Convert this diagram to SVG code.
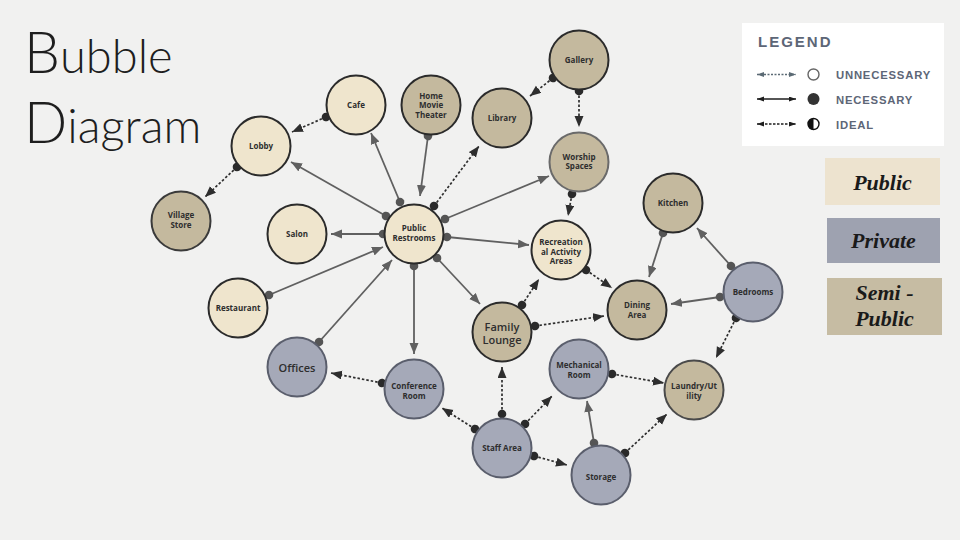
<svg xmlns="http://www.w3.org/2000/svg" width="960" height="540" viewBox="0 0 960 540">
<style>
.bg{fill:#f1f1f0}
.pub{fill:#efe5cd;stroke:#2b2b2b;stroke-width:2}
.semi{fill:#c4b99e;stroke:#2b2b2b;stroke-width:2}
.priv{fill:#a5a9b8;stroke:#5a5e6c;stroke-width:2}
.lbl{font-family:"Open Sans","Noto Sans",sans-serif;font-weight:700;font-size:8px;fill:#2e2e2e;text-anchor:middle}
.big{font-size:11px;font-weight:600}
.sol{stroke:#606060;stroke-width:1.8;fill:none;marker-start:url(#dotS);marker-end:url(#arrS)}
.dot{stroke:#2e2e2e;stroke-width:1.7;stroke-dasharray:2.5 2;fill:none;marker-start:url(#dotD);marker-end:url(#arrD)}
.title{font-family:Lato,"Open Sans",sans-serif;font-weight:300;fill:#1e1e1e}
.leg{font-family:"Liberation Sans",Arial,sans-serif;font-weight:700;fill:#5d6677}
.card{font-family:"Liberation Serif","DejaVu Serif",serif;font-style:italic;font-weight:700;font-size:22px;fill:#1a1a1a;text-anchor:middle}
</style>
<defs>
<marker id="arrS" markerUnits="userSpaceOnUse" markerWidth="12" markerHeight="10" refX="11" refY="4.5" orient="auto"><path d="M0,0 L11,4.5 L0,9 z" fill="#606060"/></marker>
<marker id="arrD" markerUnits="userSpaceOnUse" markerWidth="12" markerHeight="10" refX="11" refY="4.5" orient="auto"><path d="M0,0 L11,4.5 L0,9 z" fill="#2e2e2e"/></marker>
<marker id="dotS" markerUnits="userSpaceOnUse" markerWidth="10" markerHeight="10" refX="5" refY="5" orient="auto"><circle cx="5" cy="5" r="4.3" fill="#555"/></marker>
<marker id="dotD" markerUnits="userSpaceOnUse" markerWidth="10" markerHeight="10" refX="5" refY="5" orient="auto"><circle cx="5" cy="5" r="4.3" fill="#2a2a2a"/></marker>
<marker id="la1" markerUnits="userSpaceOnUse" markerWidth="8" markerHeight="6" refX="7" refY="2.5" orient="auto-start-reverse"><path d="M0,0 L7,2.5 L0,5 z" fill="#5b6a74"/></marker>
<marker id="la2" markerUnits="userSpaceOnUse" markerWidth="8" markerHeight="6" refX="7" refY="2.5" orient="auto-start-reverse"><path d="M0,0 L7,2.5 L0,5 z" fill="#1e1e1e"/></marker>
</defs>
<rect class="bg" x="0" y="0" width="960" height="540"/>

<g id="title">
<text class="title" x="24" y="73"><tspan font-size="57">B</tspan><tspan font-size="47">ubble</tspan></text>
<text class="title" x="24" y="143"><tspan font-size="57">D</tspan><tspan font-size="47">iagram</tspan></text>
</g>

<g id="connectors">
<line class="dot" x1="326" y1="117" x2="292" y2="132"/>
<line class="dot" x1="237" y1="167" x2="205" y2="197"/>
<line class="sol" x1="386" y1="216" x2="291" y2="162"/>
<line class="sol" x1="400" y1="202" x2="371" y2="133"/>
<line class="sol" x1="428" y1="136" x2="420" y2="196"/>
<line class="dot" x1="434" y1="206" x2="479" y2="146"/>
<line class="sol" x1="383" y1="234" x2="331" y2="234"/>
<line class="sol" x1="445" y1="219" x2="549" y2="176"/>
<line class="sol" x1="447" y1="237" x2="529" y2="245"/>
<line class="dot" x1="553" y1="78" x2="530" y2="96"/>
<line class="dot" x1="579" y1="91" x2="579" y2="127"/>
<line class="dot" x1="572" y1="194" x2="568" y2="216"/>
<line class="sol" x1="269" y1="295" x2="383" y2="247"/>
<line class="sol" x1="319" y1="342" x2="392" y2="260"/>
<line class="sol" x1="414" y1="266" x2="414" y2="354"/>
<line class="sol" x1="437" y1="258" x2="480" y2="304"/>
<line class="dot" x1="522" y1="305" x2="539" y2="279"/>
<line class="dot" x1="535" y1="326" x2="604" y2="316"/>
<line class="dot" x1="586" y1="270" x2="612" y2="288"/>
<line class="sol" x1="663" y1="233" x2="649" y2="277"/>
<line class="sol" x1="731" y1="266" x2="697" y2="228"/>
<line class="sol" x1="720" y1="297" x2="671" y2="304"/>
<line class="dot" x1="736" y1="318" x2="716" y2="358"/>
<line class="dot" x1="382" y1="383" x2="331" y2="373"/>
<line class="dot" x1="475" y1="429" x2="442" y2="408"/>
<line class="dot" x1="502" y1="414" x2="502" y2="367"/>
<line class="dot" x1="525" y1="424" x2="552" y2="396"/>
<line class="dot" x1="534" y1="456" x2="567" y2="465"/>
<line class="sol" x1="594" y1="443" x2="587" y2="401"/>
<line class="dot" x1="612" y1="374" x2="664" y2="383"/>
<line class="dot" x1="625" y1="453" x2="667" y2="414"/>
</g>

<g id="n-gallery"><circle class="semi" cx="579" cy="60" r="29.5"/><text class="lbl" x="579" y="63">Gallery</text></g>
<g id="n-library"><circle class="semi" cx="502" cy="118" r="29.5"/><text class="lbl" x="502" y="121">Library</text></g>
<g id="n-hmt"><circle class="semi" cx="431" cy="105" r="29.5"/><text class="lbl" x="431" y="98.5">Home<tspan x="431" dy="9.6">Movie</tspan><tspan x="431" dy="9.6">Theater</tspan></text></g>
<g id="n-cafe"><circle class="pub" cx="356" cy="105" r="29.5"/><text class="lbl" x="356" y="108">Cafe</text></g>
<g id="n-lobby"><circle class="pub" cx="261" cy="146" r="29.5"/><text class="lbl" x="261" y="149">Lobby</text></g>
<g id="n-village"><circle class="semi" cx="181" cy="221" r="29.5" style="stroke:#3a3a3a"/><text class="lbl" x="181" y="218">Village<tspan x="181" dy="9.6">Store</tspan></text></g>
<g id="n-salon"><circle class="pub" cx="297" cy="234" r="29.5"/><text class="lbl" x="297" y="237">Salon</text></g>
<g id="n-restrooms"><circle class="pub" cx="414" cy="234" r="29.5"/><text class="lbl" x="414" y="231">Public<tspan x="414" dy="9.6">Restrooms</tspan></text></g>
<g id="n-worship"><circle class="semi" cx="579" cy="162" r="29.5" style="stroke:#6a6a6a"/><text class="lbl" x="579" y="159.5">Worship<tspan x="579" dy="9.6">Spaces</tspan></text></g>
<g id="n-rec"><circle class="pub" cx="561" cy="250" r="29.5"/><text class="lbl" x="561" y="245">Recreation<tspan x="561" dy="9.6">al Activity</tspan><tspan x="561" dy="9.6">Areas</tspan></text></g>
<g id="n-kitchen"><circle class="semi" cx="673" cy="203" r="29.5"/><text class="lbl" x="673" y="206">Kitchen</text></g>
<g id="n-bedrooms"><circle class="priv" cx="753" cy="292" r="29.5"/><text class="lbl" x="753" y="295">Bedrooms</text></g>
<g id="n-dining"><circle class="semi" cx="637" cy="310" r="29.5"/><text class="lbl" x="637" y="308">Dining<tspan x="637" dy="9.6">Area</tspan></text></g>
<g id="n-family"><circle class="semi" cx="502" cy="332" r="29.5"/><text class="lbl big" x="502" y="330.5">Family</text><text class="lbl big" x="502" y="344">Lounge</text></g>
<g id="n-restaurant"><circle class="pub" cx="238" cy="308" r="29.5"/><text class="lbl" x="238" y="311">Restaurant</text></g>
<g id="n-offices"><circle class="priv" cx="297" cy="367" r="29.5"/><text class="lbl big" x="297" y="371.5" font-size="11.5">Offices</text></g>
<g id="n-conference"><circle class="priv" cx="414" cy="389" r="29.5"/><text class="lbl" x="414" y="389">Conference<tspan x="414" dy="9.6">Room</tspan></text></g>
<g id="n-mechanical"><circle class="priv" cx="579" cy="369" r="29.5"/><text class="lbl" x="579" y="368">Mechanical<tspan x="579" dy="9.6">Room</tspan></text></g>
<g id="n-laundry"><circle class="semi" cx="694" cy="390" r="29.5" style="stroke:#4a4a4a"/><text class="lbl" x="694" y="389">Laundry/Ut<tspan x="694" dy="9.6">ility</tspan></text></g>
<g id="n-staff"><circle class="priv" cx="502" cy="448" r="29.5"/><text class="lbl" x="502" y="451">Staff Area</text></g>
<g id="n-storage"><circle class="priv" cx="601" cy="475" r="29.5"/><text class="lbl" x="601" y="480">Storage</text></g>

<g id="legend">
<rect x="742" y="23" width="202" height="123" fill="#ffffff"/>
<text class="leg" x="758" y="47" font-size="15" letter-spacing="2">LEGEND</text>
<line x1="757" y1="74.5" x2="796" y2="74.5" stroke="#5b6a74" stroke-width="1.5" stroke-dasharray="2 1.5" marker-start="url(#la1)" marker-end="url(#la1)"/>
<circle cx="813.5" cy="74.5" r="5.5" fill="#fff" stroke="#666" stroke-width="1.4"/>
<text class="leg" x="836" y="79" font-size="11.3" letter-spacing="0.8">UNNECESSARY</text>
<line x1="757" y1="99" x2="796" y2="99" stroke="#1e1e1e" stroke-width="1.5" marker-start="url(#la2)" marker-end="url(#la2)"/>
<circle cx="813.5" cy="99" r="6" fill="#333"/>
<text class="leg" x="836" y="103.5" font-size="11.3" letter-spacing="0.8">NECESSARY</text>
<line x1="757" y1="124" x2="796" y2="124" stroke="#1e1e1e" stroke-width="1.5" stroke-dasharray="2.5 1.5" marker-start="url(#la2)" marker-end="url(#la2)"/>
<circle cx="813.5" cy="124" r="5.5" fill="#fff" stroke="#111" stroke-width="1.4"/>
<path d="M813.5,118.5 A5.5,5.5 0 0 0 813.5,129.5 z" fill="#111"/>
<text class="leg" x="836" y="128.5" font-size="11.3" letter-spacing="0.8">IDEAL</text>
</g>

<g id="card-public"><rect x="825" y="158" width="115" height="47" fill="#ede3cf"/><text class="card" x="882.5" y="190">Public</text></g>
<g id="card-private"><rect x="827" y="218" width="113" height="45" fill="#9ea2b0"/><text class="card" x="883.5" y="248">Private</text></g>
<g id="card-semi"><rect x="827" y="278" width="115" height="57" fill="#c6bca3"/><text class="card" x="884.5" y="300">Semi -<tspan x="884.5" dy="26">Public</tspan></text></g>
</svg>
